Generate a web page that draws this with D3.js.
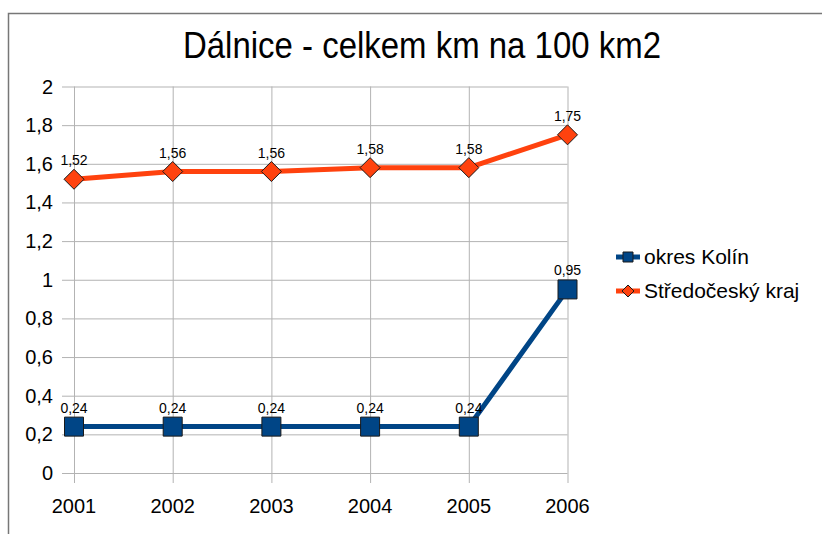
<!DOCTYPE html>
<html>
<head>
<meta charset="utf-8">
<script src="https://cdn.jsdelivr.net/npm/d3@7"></script>
<style>
  body { margin: 0; background: #fff; }
  text { font-family: "Liberation Sans", Arial, sans-serif; fill: #000; }
</style>
</head>
<body>
<svg id="chart" width="822" height="534"></svg>
<script>
const years = ['2001', '2002', '2003', '2004', '2005', '2006'];
const kolin = [0.24, 0.24, 0.24, 0.24, 0.24, 0.95];
const stredocesky = [1.52, 1.56, 1.56, 1.58, 1.58, 1.75];
const seriesNames = ['okres Kolín', 'Středočeský kraj'];
const yTicks = [0, 0.2, 0.4, 0.6, 0.8, 1, 1.2, 1.4, 1.6, 1.8, 2];

const svg = d3.select('#chart');
const fmt = (v) => String(v).replace('.', ',');

// marker path, centred on 0,0
function marker(kind, s) {
    const h = s / 2;
    if (kind === 'square') return `M${-h},${-h}H${h}V${h}H${-h}Z`;
    return `M0,${-h}L${h},0L0,${h}L${-h},0Z`;
}

// outer frame (only top and left visible)
svg.append('path')
    .attr('d', 'M8.5,534 V13.5 H822')
    .attr('fill', 'none')
    .attr('stroke', '#777')
    .attr('stroke-width', 1.5);

svg.append('text')
    .attr('x', 422)
    .attr('y', 58)
    .attr('text-anchor', 'middle')
    .attr('font-size', 36)
    .attr('textLength', 478)
    .attr('lengthAdjust', 'spacingAndGlyphs')
    .text('Dálnice - celkem km na 100 km2');

const x = d3.scalePoint().domain(years).range([74, 567.5]);
const y = d3.scaleLinear().domain([0, 2]).range([473, 86.5]);

// horizontal grid + y ticks
const yAxis = svg.append('g')
    .attr('transform', 'translate(567.5,0)')
    .call(d3.axisLeft(y).tickValues(yTicks).tickSize(567.5 - 62).tickFormat(''));
yAxis.select('.domain').remove();
yAxis.selectAll('line').attr('stroke', '#b3b3b3');

svg.append('g').selectAll('text')
    .data(yTicks)
    .join('text')
    .attr('x', 53)
    .attr('y', d => y(d) + 7)
    .attr('text-anchor', 'end')
    .attr('font-size', 20)
    .text(fmt);

// vertical grid + x ticks
const xAxis = svg.append('g')
    .attr('transform', 'translate(0,483)')
    .call(d3.axisBottom(x).tickSize(-(483 - 86.5)).tickFormat(''));
xAxis.select('.domain').remove();
xAxis.selectAll('line').attr('stroke', '#b3b3b3');

svg.append('g').selectAll('text')
    .data(years)
    .join('text')
    .attr('x', d => x(d))
    .attr('y', 513)
    .attr('text-anchor', 'middle')
    .attr('font-size', 20)
    .text(d => d);

const line = d3.line().x((d, i) => x(years[i])).y(d => y(d));

const series = [
    {name: seriesNames[0], values: kolin, color: '#004586', shape: 'square', size: 19, legendSize: 10},
    {name: seriesNames[1], values: stredocesky, color: '#ff420e', shape: 'diamond', size: 20, legendSize: 12},
];

series.forEach(s => {
    svg.append('path')
        .datum(s.values)
        .attr('d', line)
        .attr('fill', 'none')
        .attr('stroke', s.color)
        .attr('stroke-width', 5)
        .attr('stroke-linejoin', 'round');

    svg.append('g').selectAll('path')
        .data(s.values)
        .join('path')
        .attr('transform', (d, i) => `translate(${x(years[i])},${y(d)})`)
        .attr('d', marker(s.shape, s.size))
        .attr('fill', s.color)
        .attr('stroke', '#1a1a1a')
        .attr('stroke-width', 1);

    svg.append('g').selectAll('text')
        .data(s.values)
        .join('text')
        .attr('x', (d, i) => x(years[i]))
        .attr('y', d => y(d) - 14)
        .attr('text-anchor', 'middle')
        .attr('font-size', 14)
        .text(fmt);
});

// legend
const legend = svg.append('g');
series.forEach((s, i) => {
    const ly = 257 + i * 34;
    legend.append('line')
        .attr('x1', 616).attr('x2', 640)
        .attr('y1', ly).attr('y2', ly)
        .attr('stroke', s.color)
        .attr('stroke-width', 5);
    legend.append('path')
        .attr('transform', `translate(628,${ly})`)
        .attr('d', marker(s.shape, s.legendSize))
        .attr('fill', s.color)
        .attr('stroke', '#1a1a1a')
        .attr('stroke-width', 1);
    legend.append('text')
        .attr('x', 644)
        .attr('y', ly + 7)
        .attr('font-size', 21)
        .text(s.name);
});
</script>
</body>
</html>
